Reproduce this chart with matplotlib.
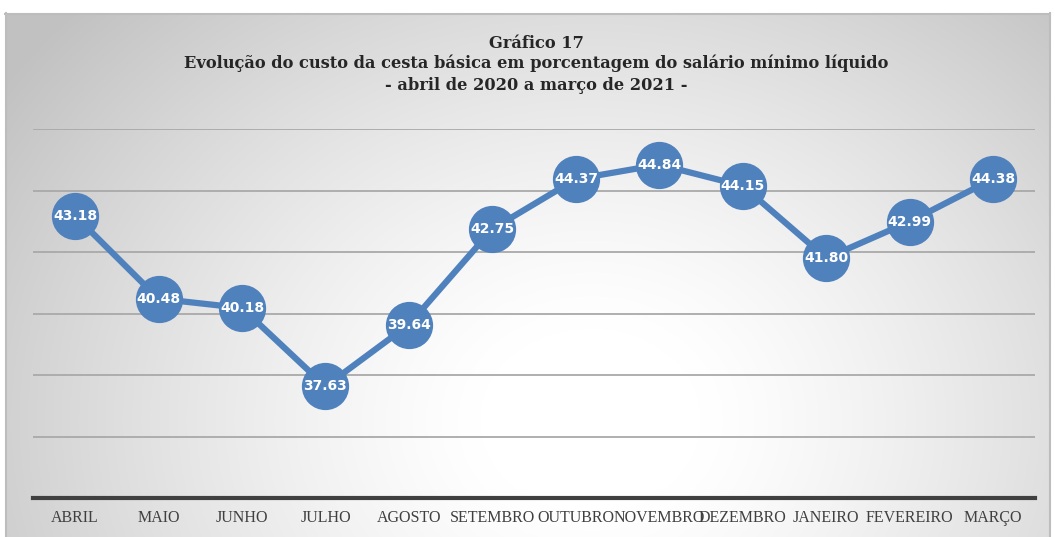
import numpy as np
from matplotlib import pyplot as plt

meses = ["ABRIL", "MAIO", "JUNHO", "JULHO", "AGOSTO", "SETEMBRO", "OUTUBRO",
         "NOVEMBRO", "DEZEMBRO", "JANEIRO", "FEVEREIRO", "MARÇO"]
valores = [43.18, 40.48, 40.18, 37.63, 39.64, 42.75, 44.37, 44.84, 44.15, 41.80, 42.99, 44.38]

W, H = 1055, 537
fig = plt.figure(figsize=(W / 100, H / 100), dpi=100)

# fundo com gradiente radial (cinza nas bordas, branco no centro)
bg = fig.add_axes([0, 0, 1, 1])
yy, xx = np.mgrid[0:H, 0:W]
d = np.sqrt((xx - 590) ** 2 + ((yy - 420) * 1.2) ** 2)
t = np.clip((d - 110) / 600, 0, 1)
val = 1 - 0.24 * t ** 1.25
img = np.dstack([val, val, val])
# margem branca fora do quadro
img[:13, :, :] = 1
img[:, :5, :] = 1
img[:, 1051:, :] = 1
bg.imshow(img, extent=[0, W, H, 0], aspect="auto")
bg.plot([5, 1050], [13.5, 13.5], color="#bdbdbd", lw=1.5)
bg.plot([5.5, 5.5], [13, H], color="#bdbdbd", lw=1.5)
bg.plot([1050, 1050], [13, H], color="#bdbdbd", lw=1.5)
bg.set_xlim(0, W)
bg.set_ylim(H, 0)
bg.axis("off")

ax = fig.add_axes([33.3 / W, 39 / H, (1035 - 33.3) / W, 369 / H])
ax.set_facecolor("none")
x = np.arange(len(meses))
ax.set_xlim(-0.5, len(meses) - 0.5)
ax.set_ylim(34, 46)
for g in range(36, 47, 2):
    ax.axhline(g, color="#a9a9a9", lw=1.3, zorder=1)
ax.plot(x, valores, color="#4F81BD", lw=4.5, marker="o", markersize=33,
        markerfacecolor="#4F81BD", markeredgecolor="#4F81BD", zorder=3, clip_on=False)
for xi, v in zip(x, valores):
    ax.text(xi, v, f"{v:.2f}", ha="center", va="center", color="white",
            fontsize=10, fontweight="bold", family="DejaVu Sans", zorder=4)

for s in ["top", "right", "left"]:
    ax.spines[s].set_visible(False)
ax.spines["bottom"].set_color("#404040")
ax.spines["bottom"].set_linewidth(3)
ax.set_yticks([])
ax.set_xticks(x)
ax.set_xticklabels(meses, family="Liberation Serif", fontsize=11.5, color="#404040")
ax.tick_params(axis="x", length=0, pad=9)

titulo = ["Gráfico 17",
          "Evolução do custo da cesta básica em porcentagem do salário mínimo líquido",
          "- abril de 2020 a março de 2021 -"]
for t, yp in zip(titulo, [43, 63, 85]):
    fig.text(536 / W, 1 - yp / H, t, ha="center", va="center", fontsize=11.7,
             fontweight="bold", family="DejaVu Serif", color="#262626")

plt.savefig("out.png", dpi=100)
plt.close()
